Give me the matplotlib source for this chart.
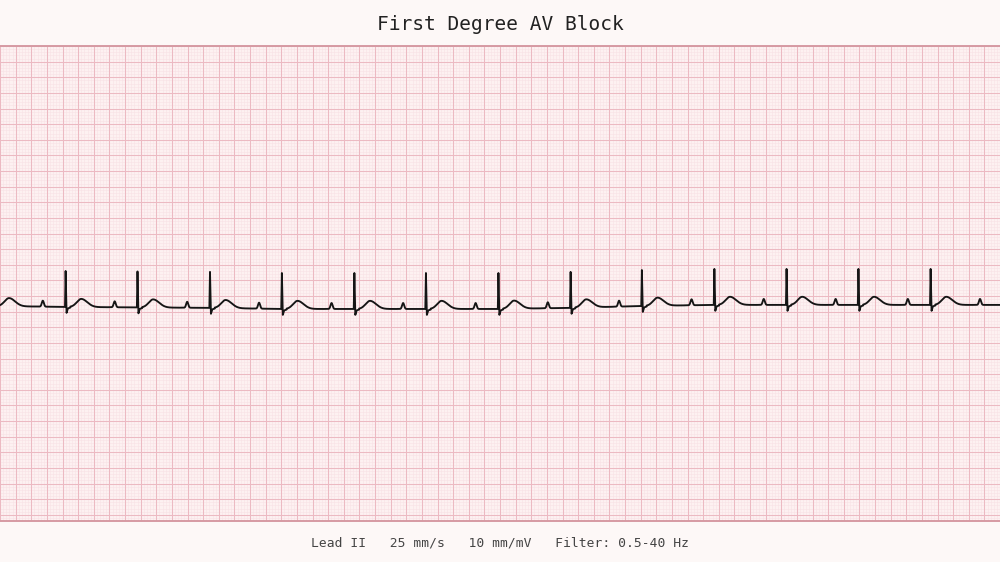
import numpy as np
import matplotlib
matplotlib.use("Agg")
import matplotlib.pyplot as plt

# ECG strip, all units in mm of paper (25 mm/s, 10 mm/mV)
title = "First Degree AV Block"
footer = "Lead II   25 mm/s   10 mm/mV   Filter: 0.5-40 Hz"

# R-peak positions (mm along the strip) and local baseline level (mm)
r_peaks = [-2.1, 21.0, 44.0, 67.2, 90.2, 113.4, 136.3, 159.5, 182.6,
           205.4, 228.6, 251.7, 274.7, 297.8, 320.9]
baseline = [0.3, 0.0, -0.15, -0.3, -0.65, -0.65, -0.65, -0.65, -0.3,
            0.3, 0.65, 0.65, 0.65, 0.65, 0.65]

# wave template read from the strip (offsets relative to R, mm)
p_offset, p_amp, p_sigma = -7.3, 1.9, 0.33
qrs_dt = [-0.2, 0.0, 0.3, 0.7, 1.5]
qrs_amp = [0.0, 11.5, -1.9, -0.5, -0.3]
t_offset, t_amp, t_sig_left, t_sig_right = 5.0, 2.6, 1.4, 1.9

paper_w = 320.0   # mm
paper_h = 152.0   # mm
top_mm = 83.5     # distance from baseline to top edge of grid

bg = "#fdf8f7"
grid_bg = "#fdf1f1"
minor_c = "#f8e2e5"
major_c = "#ecbac2"
border_c = "#d69aa3"

fig = plt.figure(figsize=(10, 5.62), dpi=100, facecolor=bg)
ax = fig.add_axes([0, 41 / 562, 1, 475 / 562])
ax.set_facecolor(grid_bg)
ax.set_xlim(0, paper_w)
ax.set_ylim(top_mm - paper_h, top_mm)

# paper grid
xs = np.arange(0, paper_w + 1)
ys = top_mm - np.arange(0, paper_h + 1)
for i, x in enumerate(xs):
    major = i % 5 == 0
    ax.axvline(x, color=major_c if major else minor_c, lw=0.75 if major else 0.4, zorder=1 if major else 0)
for i, y in enumerate(ys):
    major = i % 5 == 0
    ax.axhline(y, color=major_c if major else minor_c, lw=0.75 if major else 0.4, zorder=1 if major else 0)

for side in ["left", "right"]:
    ax.spines[side].set_visible(False)
for side in ["top", "bottom"]:
    ax.spines[side].set_color(border_c)
    ax.spines[side].set_linewidth(1.4)
ax.set_xticks([])
ax.set_yticks([])

# build the trace
t = np.linspace(0, paper_w, 16001)
sig = np.interp(t, r_peaks, baseline)
for r in r_peaks:
    sig += p_amp * np.exp(-((t - (r + p_offset)) ** 2) / (2 * p_sigma ** 2))
    sig += np.interp(t - r, qrs_dt, qrs_amp, left=0.0, right=0.0)
    d = t - (r + t_offset)
    s = np.where(d < 0, t_sig_left, t_sig_right)
    sig += t_amp * np.exp(-(d ** 2) / (2 * s ** 2))

ax.plot(t, sig, color="#151515", lw=1.35, solid_joinstyle="round", zorder=3)

fig.text(0.5, 1 - 24 / 562, title, ha="center", va="center",
         family="DejaVu Sans Mono", fontsize=14, color="#222222")
fig.text(0.5, 1 - 543 / 562, footer, ha="center", va="center",
         family="DejaVu Sans Mono", fontsize=9.4, color="#444444")

fig.savefig("out.png", dpi=100, facecolor=bg)
